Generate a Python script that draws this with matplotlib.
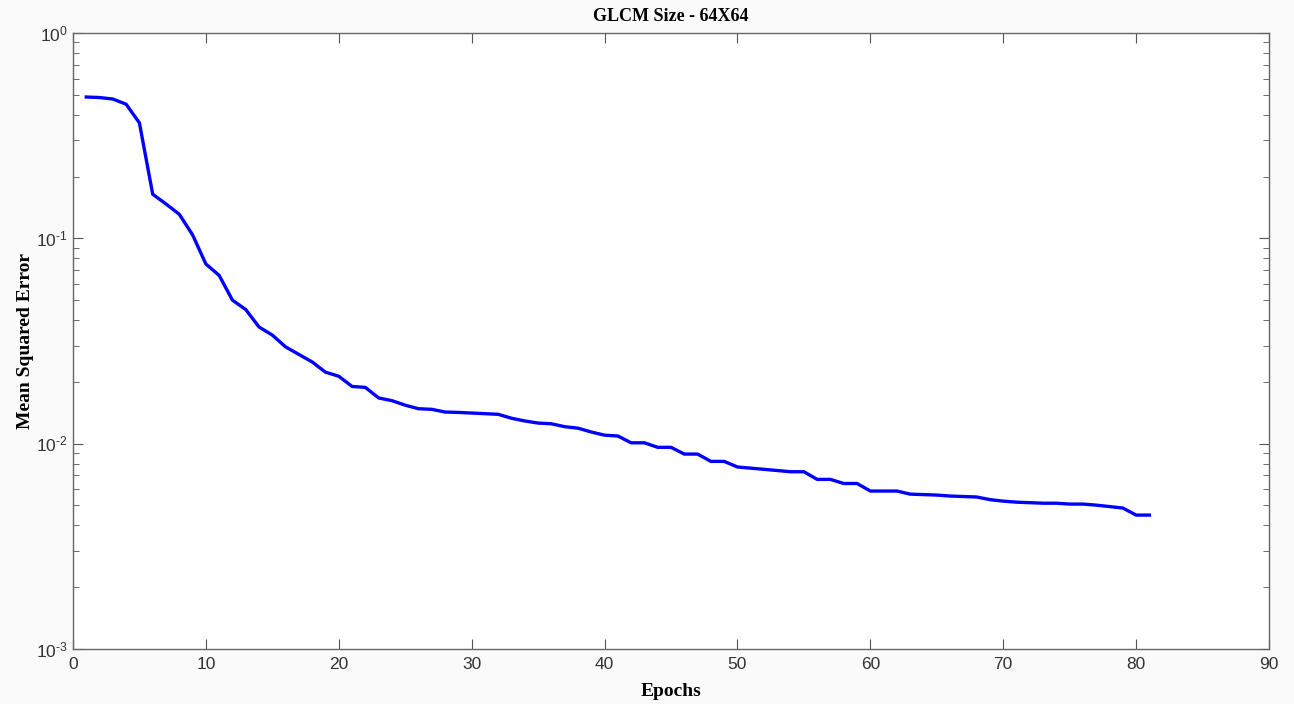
import matplotlib
matplotlib.use('Agg')
import matplotlib.pyplot as plt
import numpy as np

plt.rcParams['mathtext.fontset'] = 'custom'
plt.rcParams['mathtext.rm'] = 'Liberation Sans'
plt.rcParams['mathtext.it'] = 'Liberation Sans'

epochs = np.arange(1, 82)
mse = [0.488, 0.485, 0.477, 0.450, 0.365, 0.164, 0.147, 0.131, 0.104, 0.075,
       0.066, 0.050, 0.045, 0.037, 0.0338, 0.0296, 0.0272, 0.0250, 0.0223, 0.0213,
       0.0190, 0.0188, 0.0167, 0.0162, 0.0154, 0.0148, 0.0147, 0.01426, 0.0142, 0.0141,
       0.0140, 0.0139, 0.0133, 0.0129, 0.0126, 0.0125, 0.0121, 0.0119, 0.0114, 0.0110,
       0.0109, 0.0101, 0.0101, 0.0096, 0.0096, 0.0089, 0.0089, 0.0082, 0.0082, 0.0077,
       0.0076, 0.0075, 0.0074, 0.0073, 0.0073, 0.0067, 0.0067, 0.0064, 0.0064, 0.00588,
       0.00588, 0.00588, 0.00568, 0.00565, 0.00562, 0.00556, 0.00553, 0.00550, 0.00534, 0.00525,
       0.00519, 0.00516, 0.00513, 0.00513, 0.00508, 0.00508, 0.00502, 0.00494, 0.00486, 0.00449,
       0.00449]

yticks = [1e-3, 1e-2, 1e-1, 1e0]
ytick_labels = ['$10^{\\text{-}3}$', '$10^{\\text{-}2}$', '$10^{\\text{-}1}$', '$10^{0}$']
xticks = list(range(0, 91, 10))

fig = plt.figure(figsize=(12.94, 7.04), dpi=100, facecolor='#fafafa')
ax = fig.add_axes([0.0564, 0.0781, 0.9243, 0.875])
ax.plot(epochs, mse, color='#0000ff', linewidth=2.4)
ax.set_yscale('log')
ax.set_xlim(0, 90)
ax.set_ylim(1e-3, 1e0)
ax.set_xticks(xticks)
ax.set_yticks(yticks)
ax.set_yticklabels(ytick_labels)

gray = '#555555'
for s in ax.spines.values():
    s.set_color('#666666')
    s.set_linewidth(1.0)
ax.tick_params(which='both', direction='in', top=True, right=True, colors=gray,
               labelsize=12.5, labelcolor='#333333')
ax.tick_params(which='major', length=7)
ax.tick_params(which='minor', length=4)
ax.tick_params(axis='x', pad=6)
for lab in ax.get_xticklabels():
    lab.set_family('Liberation Sans')

ax.set_title('GLCM Size - 64X64', family='Liberation Serif', fontweight='bold',
             fontsize=13, pad=9)
ax.set_xlabel('Epochs', family='Liberation Serif', fontweight='bold', fontsize=14,
              labelpad=8)
ax.set_ylabel('Mean Squared Error', family='Liberation Serif', fontweight='bold',
              fontsize=14, labelpad=2)

fig.savefig('out.png', dpi=100, facecolor=fig.get_facecolor())
